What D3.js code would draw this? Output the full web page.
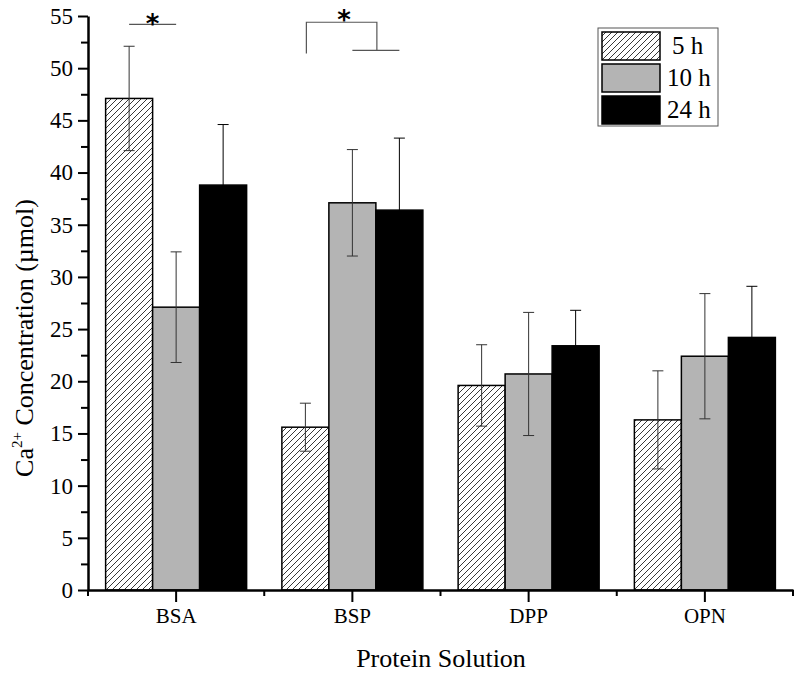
<!DOCTYPE html>
<html><head><meta charset="utf-8">
<script src="https://cdn.jsdelivr.net/npm/d3@7"></script>
<style>body{margin:0;background:#fff}svg{display:block}text{font-family:"Liberation Serif",serif}</style>
</head><body>
<script>
const categories = ["BSA","BSP","DPP","OPN"];
const seriesNames = ["5 h","10 h","24 h"];
const values5  = [47.1, 15.6, 19.6, 16.3];
const values10 = [27.1, 37.1, 20.7, 22.4];
const values24 = [38.8, 36.4, 23.4, 24.2];
const err5  = [5.0, 2.3, 3.9, 4.7];
const err10 = [5.3, 5.1, 5.9, 6.0];
const err24 = [5.8, 6.9, 3.4, 4.9];
const yTicks = [0,5,10,15,20,25,30,35,40,45,50,55];

const W = 800, H = 674;
const m = {left: 88, right: 7, top: 16, bottom: 84};
const svg = d3.select("body").append("svg").attr("width", W).attr("height", H);

const defs = svg.append("defs");
const pat = defs.append("pattern").attr("id","hatch").attr("patternUnits","userSpaceOnUse")
  .attr("width",6).attr("height",6);
pat.append("rect").attr("width",6).attr("height",6).attr("fill","#fff");
pat.append("path").attr("d","M-1,1 l2,-2 M0,6 l6,-6 M5,7 l2,-2").attr("stroke","#222").attr("stroke-width",0.9);

const x = d3.scaleBand().domain(categories).range([m.left, W - m.right]).padding(0);
const y = d3.scaleLinear().domain([0,55]).range([H - m.bottom, m.top]);
const xs = d3.scaleBand().domain(seriesNames).range([0, x.bandwidth()]).paddingOuter(0.375).paddingInner(0);

const fills = ["url(#hatch)", "#b4b4b4", "#000"];
const series = [values5, values10, values24];
const errs = [err5, err10, err24];

const data = [];
categories.forEach((c, i) => seriesNames.forEach((s, j) => data.push({c, s, j, v: series[j][i], e: errs[j][i]})));

const g = svg.append("g");
g.selectAll("rect.bar").data(data).enter().append("rect").attr("class","bar")
  .attr("x", d => x(d.c) + xs(d.s)).attr("width", xs.bandwidth())
  .attr("y", d => y(d.v)).attr("height", d => y(0) - y(d.v))
  .attr("fill", d => fills[d.j]).attr("stroke", "#000").attr("stroke-width", 1.5);

const cx = (c, s) => x(c) + xs(s) + xs.bandwidth()/2;
// error bars
const eb = g.selectAll("g.err").data(data).enter().append("g")
  .attr("stroke", d => d.j === 2 ? "#000" : "#333").attr("stroke-width", 1);
eb.append("line").attr("x1", d => cx(d.c, d.s)).attr("x2", d => cx(d.c, d.s))
  .attr("y1", d => y(d.v + d.e)).attr("y2", d => y(d.v - d.e));
eb.append("line").attr("x1", d => cx(d.c, d.s)-5.5).attr("x2", d => cx(d.c, d.s)+5.5)
  .attr("y1", d => y(d.v + d.e)).attr("y2", d => y(d.v + d.e));
eb.append("line").attr("x1", d => cx(d.c, d.s)-5.5).attr("x2", d => cx(d.c, d.s)+5.5)
  .attr("y1", d => y(d.v - d.e)).attr("y2", d => y(d.v - d.e));

// Y axis
const yMinor = d3.range(2.5, 55, 5);
const ya = svg.append("g").attr("transform", `translate(${m.left},0)`);
ya.call(d3.axisLeft(y).tickValues(yTicks).tickSize(10).tickSizeOuter(0).tickPadding(5).tickFormat(d3.format("d")));
const yam = ya.append("g").call(d3.axisLeft(y).tickValues(yMinor).tickSize(7).tickSizeOuter(0).tickFormat(""));
yam.select(".domain").remove();
ya.selectAll(".domain").attr("stroke","#000").attr("stroke-width",2.5);
ya.selectAll(".tick line").attr("stroke","#000").attr("stroke-width",2);
ya.selectAll("text").attr("font-size",23).attr("fill","#000").style("font-family","Liberation Serif");

// X axis
const xa = svg.append("g").attr("transform", `translate(0,${y(0)})`);
xa.call(d3.axisBottom(x).tickSize(12).tickPadding(6).tickSizeOuter(0));
const bounds = d3.range(0, categories.length + 1).map(i => m.left + i * x.bandwidth());
xa.selectAll("line.minor").data(bounds).enter().append("line").attr("class","minor")
  .attr("x1", d => d).attr("x2", d => d).attr("y1", 0).attr("y2", 6).attr("stroke","#000").attr("stroke-width",2);
xa.selectAll(".domain").attr("stroke","#000").attr("stroke-width",2.5);
xa.selectAll(".tick line").attr("stroke","#000").attr("stroke-width",2);
xa.selectAll("text").attr("font-size",21).attr("fill","#000").style("font-family","Liberation Serif");

// titles
svg.append("text").attr("x", 441).attr("y", 667).attr("text-anchor","middle")
  .attr("font-size",26).style("font-family","Liberation Serif").text("Protein Solution");
const yt = svg.append("text").attr("transform","translate(33,338) rotate(-90)").attr("text-anchor","middle")
  .attr("font-size",26).style("font-family","Liberation Serif");
yt.append("tspan").text("Ca");
yt.append("tspan").attr("font-size",15).attr("dy",-11).text("2+");
yt.append("tspan").attr("dy",11).text(" Concentration (µmol)");

// significance
const sig = svg.append("g").attr("stroke","#555").attr("stroke-width",1.2).attr("fill","none");
sig.append("line").attr("x1", cx("BSA","5 h")).attr("x2", cx("BSA","10 h")).attr("y1", y(54.2)).attr("y2", y(54.2));
const midB = (cx("BSP","10 h") + cx("BSP","24 h")) / 2;
sig.append("path").attr("d", `M${cx("BSP","5 h")+1},${y(51.4)} V${y(54.4)} H${midB+1} V${y(51.7)}`);
sig.append("line").attr("x1", cx("BSP","10 h")).attr("x2", cx("BSP","24 h")).attr("y1", y(51.7)).attr("y2", y(51.7));
svg.append("text").attr("x", (cx("BSA","5 h")+cx("BSA","10 h"))/2).attr("y", 33).attr("text-anchor","middle")
  .attr("font-size",26).attr("font-weight","bold").style("font-family","DejaVu Sans").text("*");
svg.append("text").attr("x", 344).attr("y", 29).attr("text-anchor","middle")
  .attr("font-size",26).attr("font-weight","bold").style("font-family","DejaVu Sans").text("*");

// legend
const lg = svg.append("g").attr("transform","translate(598,28)");
lg.append("rect").attr("width",120).attr("height",98).attr("fill","#fff").attr("stroke","#555").attr("stroke-width",1);
seriesNames.forEach((s, i) => {
  lg.append("rect").attr("x",4).attr("y",4 + i*32).attr("width",58).attr("height",28)
    .attr("fill", fills[i]).attr("stroke","#000").attr("stroke-width",1.5);
  lg.append("text").attr("x", i === 0 ? 74 : 69).attr("y", 26 + i*32).attr("font-size",25)
    .style("font-family","Liberation Serif").text(s);
});
</script>
</body></html>
